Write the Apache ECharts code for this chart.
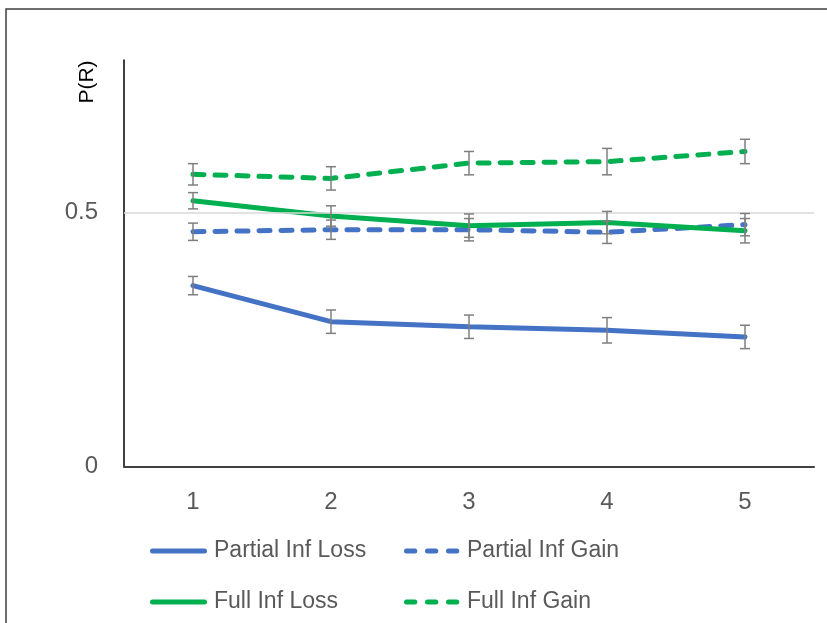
<!DOCTYPE html>
<html>
<head>
<meta charset="utf-8">
<script src="https://cdn.jsdelivr.net/npm/echarts@6/dist/echarts.min.js"></script>
<style>html,body{margin:0;padding:0;background:#fff}#c{width:827px;height:623px}</style>
</head>
<body>
<div id="c"></div>
<script>
var categories = ['1', '2', '3', '4', '5'];
var yTickLabels = ['0', '0.5'];
var seriesNames = ['Partial Inf Loss', 'Partial Inf Gain', 'Full Inf Loss', 'Full Inf Gain'];
var partialInfLoss = [0.356, 0.285, 0.275, 0.268, 0.255];
var partialInfGain = [0.462, 0.466, 0.466, 0.461, 0.476];
var fullInfLoss = [0.523, 0.493, 0.474, 0.480, 0.464];
var fullInfGain = [0.575, 0.567, 0.597, 0.600, 0.620];
var partialInfLossErr = [0.018, 0.023, 0.023, 0.025, 0.023];
var partialInfGainErr = [0.017, 0.019, 0.022, 0.022, 0.022];
var fullInfLossErr = [0.016, 0.020, 0.023, 0.022, 0.024];
var fullInfGainErr = [0.021, 0.023, 0.023, 0.026, 0.024];

var blue = '#4472C4', green = '#00B050';
var textColor = '#595959';
var font = 'Liberation Sans';

function errData(vals, errs) {
  return vals.map(function (v, i) { return [i, v - errs[i], v + errs[i]]; });
}
function errSeries(vals, errs) {
  return {
    type: 'custom', silent: true, z: 5,
    data: errData(vals, errs),
    encode: { x: 0, y: [1, 2] },
    renderItem: function (params, api) {
      var lo = api.coord([api.value(0), api.value(1)]);
      var hi = api.coord([api.value(0), api.value(2)]);
      var hw = 5;
      var st = { stroke: '#7F7F7F', lineWidth: 1.5 };
      return {
        type: 'group',
        children: [
          { type: 'line', shape: { x1: lo[0], y1: lo[1], x2: hi[0], y2: hi[1] }, style: st },
          { type: 'line', shape: { x1: lo[0] - hw, y1: lo[1], x2: lo[0] + hw, y2: lo[1] }, style: st },
          { type: 'line', shape: { x1: hi[0] - hw, y1: hi[1], x2: hi[0] + hw, y2: hi[1] }, style: st }
        ]
      };
    }
  };
}
function lineSeries(name, vals, color, dashed) {
  return {
    name: name, type: 'line', data: vals, symbol: 'none', z: 3,
    lineStyle: { color: color, width: 5, type: dashed ? [11, 11] : 'solid', cap: 'round' },
    itemStyle: { color: color }
  };
}
// legend entries drawn as graphic elements (icon line + text)
function legendEntry(name, color, dashed, x0, y) {
  return [
    { type: 'line', silent: true,
      shape: dashed ? { x1: 406.5, y1: y, x2: 457.5, y2: y } : { x1: x0 + 2.5, y1: y, x2: x0 + 54.5, y2: y },
      style: { stroke: color, lineWidth: 5, lineCap: 'round', lineDash: dashed ? [8.3, 12.7] : null } },
    { type: 'text', silent: true, x: x0 + 64, y: y,
      style: { text: name, fill: textColor, fontSize: 23, fontFamily: font, align: 'left', verticalAlign: 'middle' } }
  ];
}

var graphics = [
  { type: 'rect', shape: { x: 6, y: 9, width: 900, height: 700 }, style: { fill: 'none', stroke: '#404040', lineWidth: 1.5 }, silent: true },
  { type: 'text', x: 87, y: 82, rotation: Math.PI / 2, style: { text: 'P(R)', fill: '#000', fontSize: 21, fontFamily: font, align: 'center', verticalAlign: 'middle' } }
].concat(
  legendEntry(seriesNames[0], blue, false, 150, 551),
  legendEntry(seriesNames[1], blue, true, 403, 551),
  legendEntry(seriesNames[2], green, false, 150, 602),
  legendEntry(seriesNames[3], green, true, 403, 602)
);

var chart = echarts.init(document.getElementById('c'));
chart.setOption({
  animation: false,
  backgroundColor: '#fff',
  graphic: graphics,
  grid: { left: 124, right: 13, top: 60, bottom: 156.5, containLabel: false },
  xAxis: {
    type: 'category', data: categories, boundaryGap: true,
    axisLine: { lineStyle: { color: '#404040', width: 2 } },
    axisTick: { show: false },
    axisLabel: { color: textColor, fontSize: 24, fontFamily: font, margin: 24 }
  },
  yAxis: {
    type: 'value', min: 0, max: 0.8, interval: 0.5,
    axisLine: { show: true, lineStyle: { color: '#000', width: 1.5 } },
    axisTick: { show: false },
    splitLine: { show: false },
    axisLabel: {
      color: textColor, fontSize: 24, fontFamily: font, margin: 26,
      showMaxLabel: false,
      formatter: function (v) {
        if (Math.abs(v) < 1e-9) return yTickLabels[0];
        if (Math.abs(v - 0.5) < 1e-9) return yTickLabels[1];
        return '';
      }
    }
  },
  series: [
    {
      type: 'line', data: [], silent: true, z: 1,
      markLine: { silent: true, symbol: 'none', label: { show: false },
        lineStyle: { color: '#D9D9D9', width: 1.5, type: 'solid' },
        data: [{ yAxis: 0.5 }] }
    },
    lineSeries(seriesNames[0], partialInfLoss, blue, false),
    lineSeries(seriesNames[1], partialInfGain, blue, true),
    lineSeries(seriesNames[2], fullInfLoss, green, false),
    lineSeries(seriesNames[3], fullInfGain, green, true),
    errSeries(partialInfLoss, partialInfLossErr),
    errSeries(partialInfGain, partialInfGainErr),
    errSeries(fullInfLoss, fullInfLossErr),
    errSeries(fullInfGain, fullInfGainErr)
  ]
});
</script>
</body>
</html>
